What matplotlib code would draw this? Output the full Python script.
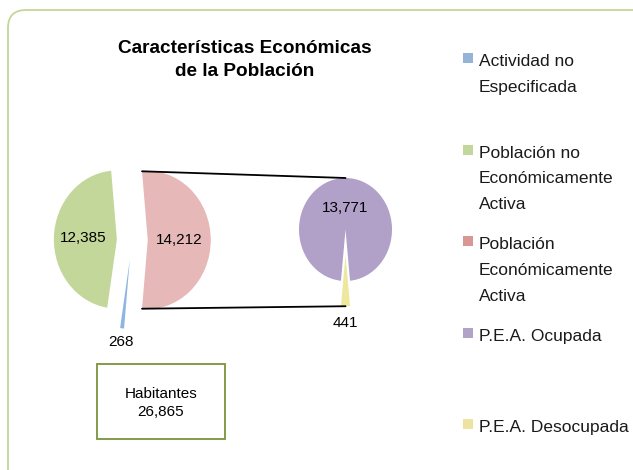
import numpy as np
import matplotlib.pyplot as plt
from matplotlib.patches import FancyBboxPatch, Rectangle, ConnectionPatch

plt.rcParams['font.family'] = ['Liberation Sans', 'DejaVu Sans']

# data
title = 'Características Económicas\nde la Población'
main_values = [14212, 12385, 268]   # P.E.A., no P.E.A., no especificada
main_colors = ['#e6b8b7', '#c4d79b', '#8db4e2']
sub_values = [441, 13771]           # desocupada, ocupada
sub_colors = ['#eee89e', '#b1a0c7']
legend_labels = ['Actividad no\nEspecificada',
                 'Población no\nEconómicamente\nActiva',
                 'Población\nEconómicamente\nActiva',
                 'P.E.A. Ocupada',
                 'P.E.A. Desocupada']
legend_colors = ['#95b3d7', '#c3d69b', '#d99694', '#b3a2c7', '#ede59f']
total_label = 'Habitantes'
total_value = sum(main_values)

W, H = 633, 470
fig = plt.figure(figsize=(W / 100, H / 100), dpi=100)

# background axes in pixel coordinates
bg = fig.add_axes([0, 0, 1, 1])
bg.set_xlim(0, W)
bg.set_ylim(H, 0)
bg.axis('off')
bg.add_patch(FancyBboxPatch((8, 10), 700, 500, boxstyle='round,pad=0,rounding_size=18',
                            facecolor='white', edgecolor='#c3d69b', linewidth=1.3))


def pie_axes(cx, cy, rx, ry, lim=2.0):
    w, h = 2 * lim * rx, 2 * lim * ry
    ax = fig.add_axes([(cx - w / 2) / W, 1 - (cy + h / 2) / H, w / W, h / H])
    return ax


def finish(ax, lim=2.0):
    ax.set_aspect('auto')
    ax.set_xlim(-lim, lim)
    ax.set_ylim(-lim, lim)
    ax.axis('off')


def label_wedge(ax, wedge, text, dist, size=11):
    tm = np.deg2rad((wedge.theta1 + wedge.theta2) / 2)
    cx, cy = wedge.center
    ax.text(cx + dist * np.cos(tm), cy + dist * np.sin(tm), text,
            ha='center', va='center', fontsize=size)


# main pie
ax1 = pie_axes(132, 240, 63, 69)
start1 = -180 * main_values[0] / sum(main_values)
w1, _ = ax1.pie(main_values, colors=main_colors, startangle=start1,
                explode=[0.25, 0.24, 0.29], wedgeprops=dict(linewidth=0))
finish(ax1)
for w, v, d in zip(w1, main_values, [0.5, 0.53, 1.2]):
    label_wedge(ax1, w, f'{v:,}', d)

# secondary pie
ax2 = pie_axes(345.5, 229.5, 46.5, 51.5)
start2 = 270 - 180 * sub_values[0] / sum(sub_values)
w2, _ = ax2.pie(sub_values, colors=sub_colors, startangle=start2,
                explode=[0.49, 0], wedgeprops=dict(linewidth=0))
finish(ax2)
for w, v, d in zip(w2, sub_values, [1.33, 0.42]):
    label_wedge(ax2, w, f'{v:,}', d)

# connector lines from the split slice to the secondary pie
red = w1[0]
for ang, wb, sign in [(red.theta2, w2[1], 1), (red.theta1, w2[0], -1)]:
    a = np.deg2rad(ang)
    xa = red.center[0] + np.cos(a)
    ya = red.center[1] + np.sin(a)
    xb, yb = wb.center[0], wb.center[1] + sign
    con = ConnectionPatch((xa, ya), (xb, yb), coordsA=ax1.transData, coordsB=ax2.transData,
                          color='black', linewidth=1.3)
    fig.add_artist(con)

# title
bg.text(245, 60, title, ha='center', va='center', fontsize=13.7, fontweight='bold',
        linespacing=1.4)

# legend
for i, (lab, col) in enumerate(zip(legend_labels, legend_colors)):
    yc = 60 + i * 91.5
    bg.add_patch(Rectangle((463, yc - 7), 10, 10, facecolor=col, edgecolor='none'))
    bg.text(479, yc - 6, lab, ha='left', va='top', fontsize=12.5,
            linespacing=1.9, color='#1a1a1a')

# total box
bg.add_patch(Rectangle((97, 364), 128, 75, facecolor='white', edgecolor='#77933c', linewidth=1.3))
bg.text(161, 403, f'{total_label}\n{total_value:,}', ha='center', va='center',
        fontsize=11, linespacing=1.35)

fig.savefig('out.png', dpi=100)
